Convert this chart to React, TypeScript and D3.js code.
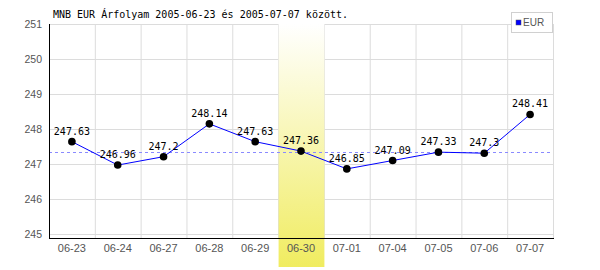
import React from "react";
import * as d3 from "d3";

const dates = ["06-23", "06-24", "06-27", "06-28", "06-29", "06-30", "07-01", "07-04", "07-05", "07-06", "07-07"];
const eurValues = [247.63, 246.96, 247.2, 248.14, 247.63, 247.36, 246.85, 247.09, 247.33, 247.3, 248.41];
const yTicks = [245, 246, 247, 248, 249, 250, 251];
const referenceLevel = 247.34;
const highlightDate = "06-30";
const title = "MNB EUR Árfolyam 2005-06-23 és 2005-07-07 között.";
const seriesName = "EUR";

export default function App() {
  const W = 600, H = 270;
  const left = 49, right = 553, top = 24, bottom = 238;
  const x = d3.scaleBand<string>().domain(dates).range([left, right]).padding(0);
  const y = d3.scaleLinear().domain([245, 251]).range([233.5, top]);
  const line = d3.line<number>()
    .x((_, i) => (x(dates[i]) as number) + x.bandwidth() / 2)
    .y((d) => y(d));
  const sans = "'Liberation Sans', Arial, sans-serif";
  const mono = "'DejaVu Sans Mono', monospace";
  const hx = x(highlightDate) as number;
  return (
    <svg width={W} height={H} style={{ position: "absolute", left: 0, top: 0, background: "#fff" }}>
      <defs>
        <linearGradient id="hl" x1="0" y1="0" x2="0" y2="1">
          <stop offset="0" stopColor="#ffffff" />
          <stop offset="1" stopColor="#f0ec60" />
        </linearGradient>
      </defs>
      <rect x={left} y={top} width={right - left} height={bottom - top} fill="#fff" />
      {/* vertical grid */}
      {dates.map((d, i) => (
        <line key={"vg" + i} x1={(x(d) as number) + x.bandwidth() + 0.5} x2={(x(d) as number) + x.bandwidth() + 0.5}
          y1={top} y2={bottom} stroke="#dcdcdc" strokeWidth={1} />
      ))}
      {/* horizontal grid */}
      {yTicks.map((t) => (
        <line key={"hg" + t} x1={left} x2={right} y1={Math.round(y(t)) + 0.5} y2={Math.round(y(t)) + 0.5}
          stroke="#dcdcdc" strokeWidth={1} />
      ))}
      {/* highlight band */}
      <rect x={hx + 0.5} y={top} width={x.bandwidth()} height={267 - top} fill="url(#hl)" />
      {/* reference dashed line */}
      <line x1={left} x2={right} y1={Math.round(y(referenceLevel)) + 0.5} y2={Math.round(y(referenceLevel)) + 0.5}
        stroke="#8a8aff" strokeWidth={1} strokeDasharray="3,3" />
      {/* axes */}
      <line x1={left + 0.5} x2={left + 0.5} y1={top} y2={bottom + 1} stroke="#000" strokeWidth={1} />
      <line x1={left} x2={right + 1} y1={bottom + 0.5} y2={bottom + 0.5} stroke="#000" strokeWidth={1} />
      {/* y tick labels */}
      {yTicks.map((t) => (
        <text key={"yl" + t} x={42} y={y(t) + 4} textAnchor="end" fontFamily={sans} fontSize={10.5} fill="#555">{t}</text>
      ))}
      {/* x tick labels */}
      {dates.map((d) => (
        <text key={"xl" + d} x={(x(d) as number) + x.bandwidth() / 2} y={252} textAnchor="middle"
          fontFamily={sans} fontSize={11} fill="#555">{d}</text>
      ))}
      {/* series line */}
      <path d={line(eurValues) || ""} fill="none" stroke="#0000ff" strokeWidth={1} />
      {eurValues.map((v, i) => {
        const cx = (x(dates[i]) as number) + x.bandwidth() / 2;
        const cy = y(v);
        return (
          <g key={"p" + i}>
            <circle cx={cx} cy={cy} r={3.8} fill="#000" />
            <text x={cx} y={cy - 7} textAnchor="middle" fontFamily={mono} fontSize={10} fill="#000">{String(v)}</text>
          </g>
        );
      })}
      {/* title */}
      <text x={53} y={18} fontFamily={mono} fontSize={10} fill="#000">{title}</text>
      {/* legend */}
      <rect x={511.5} y={12.5} width={41} height={20} fill="#fff" stroke="#d0d0d0" strokeWidth={1} />
      <rect x={516} y={20} width={5} height={5} fill="#0000ff" stroke="#555" strokeWidth={0.5} />
      <text x={523} y={26} fontFamily={sans} fontSize={10} fill="#555">{seriesName}</text>
    </svg>
  );
}
